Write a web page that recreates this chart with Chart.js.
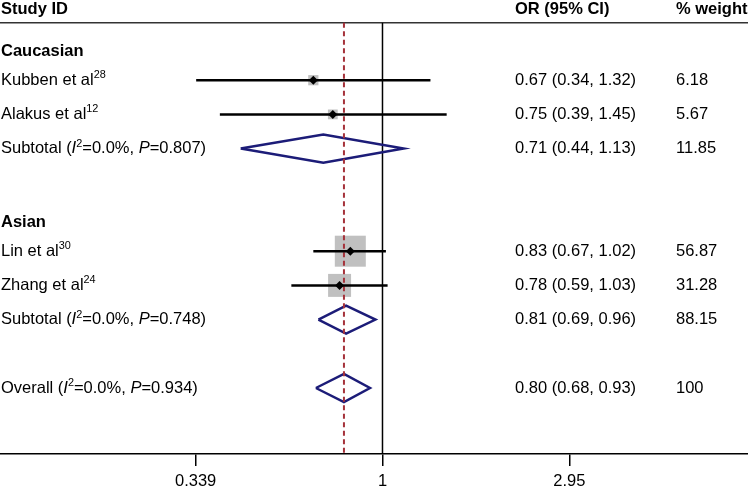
<!DOCTYPE html>
<html>
<head>
<meta charset="utf-8">
<script src="https://cdn.jsdelivr.net/npm/chart.js@4.4.1/dist/chart.umd.min.js"></script>
<style>
  html, body { margin: 0; padding: 0; background: #fff; }
  #wrap { width: 748px; height: 487px; position: relative; }
</style>
</head>
<body>
<div id="wrap"><canvas id="forest"></canvas></div>
<script>
/* ── DATA ─────────────────────────────────────────────────────────────── */
const studyNames = ["Kubben et al", "Alakus et al", "Lin et al", "Zhang et al"];
const studyRefs = ["28", "12", "30", "24"];
const studyOR = [0.67, 0.75, 0.83, 0.78];
const studyLo = [0.34, 0.39, 0.67, 0.59];
const studyHi = [1.32, 1.45, 1.02, 1.03];
const studyWeight = [6.18, 5.67, 56.87, 31.28];
const studyRow = [1, 2, 6, 7];

const poolNames = ["Subtotal", "Subtotal", "Overall"];
const poolI2 = ["0.0%", "0.0%", "0.0%"];
const poolP = ["0.807", "0.748", "0.934"];
const poolOR = [0.71, 0.81, 0.80];
const poolLo = [0.44, 0.69, 0.68];
const poolHi = [1.13, 0.96, 0.93];
const poolWeight = [11.85, 88.15, 100];
const poolRow = [3, 8, 10];

const groupNames = ["Caucasian", "Asian"];
const groupRow = [0, 5];

const xTicks = [0.339, 1, 2.95];

/* ── LAYOUT / STYLE ───────────────────────────────────────────────────── */
const FONT = '"Liberation Sans", Arial, sans-serif';
const FS = 16.5;
const X_MIN = 0.1092, X_MAX = 8.30;
const Y_MIN = -1.345, Y_MAX = 11.93;
const RULE_ROW = -0.68;
const HEAD_ROW = -1.08;
const DIAMOND_H = 0.41;
const COL_OR = 515, COL_W = 676;
const NAVY = "#1c1c78";
const MAROON = "#a5323a";
const BOX_GREY = "#c0c0c0";
const BOX_K = 4.11; // px of square side per sqrt(weight)

/* ── DATASETS ─────────────────────────────────────────────────────────── */
const markerPts = studyOR.map((v, i) => ({ x: v, y: studyRow[i] }));
const ciSets = studyOR.map((v, i) => ({
  data: [{ x: studyLo[i], y: studyRow[i] }, { x: studyHi[i], y: studyRow[i] }],
  showLine: true, borderColor: "#000", borderWidth: 2.5, pointRadius: 0,
}));
const diamondSets = poolOR.map((v, i) => ({
  data: [
    { x: poolLo[i], y: poolRow[i] },
    { x: v, y: poolRow[i] - DIAMOND_H },
    { x: poolHi[i], y: poolRow[i] },
    { x: v, y: poolRow[i] + DIAMOND_H },
    { x: poolLo[i], y: poolRow[i] },
  ],
  showLine: true, borderColor: NAVY, borderWidth: 2.5, pointRadius: 0,
  borderJoinStyle: "miter",
}));

const datasets = [
  { data: markerPts, pointStyle: "rectRot", pointRadius: 4.5,
    backgroundColor: "#000", borderColor: "#000", borderWidth: 0 },
  ...ciSets,
  { data: [{ x: poolOR[2], y: RULE_ROW }, { x: poolOR[2], y: Y_MAX }],
    showLine: true, borderColor: MAROON, borderWidth: 2, borderDash: [5, 3.5],
    pointRadius: 0 },
  ...diamondSets,
  { data: markerPts, pointStyle: "rect",
    pointRadius: studyWeight.map(w => BOX_K * Math.sqrt(w) / Math.SQRT2),
    backgroundColor: BOX_GREY, borderWidth: 0 },
  { data: [{ x: 1, y: RULE_ROW }, { x: 1, y: Y_MAX }],
    showLine: true, borderColor: "#000", borderWidth: 1.5, pointRadius: 0 },
  { data: [{ x: X_MIN, y: RULE_ROW }, { x: X_MAX, y: RULE_ROW }],
    showLine: true, borderColor: "#333", borderWidth: 1.5, pointRadius: 0 },
];

/* ── TEXT HELPERS ─────────────────────────────────────────────────────── */
function drawRich(ctx, parts, x, y, bold) {
  let cx = x;
  parts.forEach(p => {
    const seg = typeof p === "string" ? { t: p } : p;
    const sz = seg.sup ? FS * 0.66 : FS;
    ctx.font = `${seg.it ? "italic " : ""}${bold ? "bold " : ""}${sz}px ${FONT}`;
    ctx.fillText(seg.t, cx, y + (seg.sup ? -FS * 0.3 : 0));
    cx += ctx.measureText(seg.t).width;
  });
}
const fmtCI = (o, l, h) => `${o.toFixed(2)} (${l.toFixed(2)}, ${h.toFixed(2)})`;

const textPlugin = {
  id: "forestText",
  afterDraw(chart) {
    const { ctx, scales: { y } } = chart;
    ctx.save();
    ctx.fillStyle = "#000";
    ctx.textBaseline = "middle";
    ctx.textAlign = "left";

    const hy = y.getPixelForValue(HEAD_ROW);
    drawRich(ctx, ["Study ID"], 1, hy, true);
    drawRich(ctx, ["OR (95% CI)"], COL_OR, hy, true);
    drawRich(ctx, ["% weight"], COL_W, hy, true);

    groupNames.forEach((g, i) => {
      drawRich(ctx, [g], 1, y.getPixelForValue(groupRow[i]) + 5, true);
    });

    studyNames.forEach((n, i) => {
      const py = y.getPixelForValue(studyRow[i]);
      drawRich(ctx, [n, { t: studyRefs[i], sup: true }], 1, py, false);
      drawRich(ctx, [fmtCI(studyOR[i], studyLo[i], studyHi[i])], COL_OR, py, false);
      drawRich(ctx, [String(studyWeight[i])], COL_W, py, false);
    });

    poolNames.forEach((n, i) => {
      const py = y.getPixelForValue(poolRow[i]);
      drawRich(ctx, [n + " (", { t: "I", it: true }, { t: "2", sup: true },
        "=" + poolI2[i] + ", ", { t: "P", it: true }, "=" + poolP[i] + ")"], 1, py, false);
      drawRich(ctx, [fmtCI(poolOR[i], poolLo[i], poolHi[i])], COL_OR, py, false);
      drawRich(ctx, [String(poolWeight[i])], COL_W, py, false);
    });
    ctx.restore();
  },
};

/* ── CHART ────────────────────────────────────────────────────────────── */
new Chart(document.getElementById("forest"), {
  type: "scatter",
  data: { datasets },
  plugins: [textPlugin],
  options: {
    responsive: true,
    maintainAspectRatio: false,
    animation: false,
    layout: { padding: 0, autoPadding: false },
    plugins: { legend: { display: false }, tooltip: { enabled: false } },
    scales: {
      x: {
        type: "logarithmic",
        position: "bottom",
        min: X_MIN,
        max: X_MAX,
        afterBuildTicks(scale) { scale.ticks = xTicks.map(v => ({ value: v })); },
        afterFit(scale) {
          scale.height = 33;
          scale.paddingLeft = 0;
          scale.paddingRight = 0;
        },
        ticks: {
          autoSkip: false, maxRotation: 0, padding: 6, color: "#000",
          font: { size: FS, family: FONT },
          callback: v => String(v),
        },
        grid: { drawOnChartArea: false, drawTicks: true, tickLength: 12,
          color: "#000", lineWidth: 1.5 },
        border: { color: "#000", width: 1.5 },
      },
      y: { type: "linear", display: false, reverse: true, min: Y_MIN, max: Y_MAX },
    },
  },
});
</script>
</body>
</html>
